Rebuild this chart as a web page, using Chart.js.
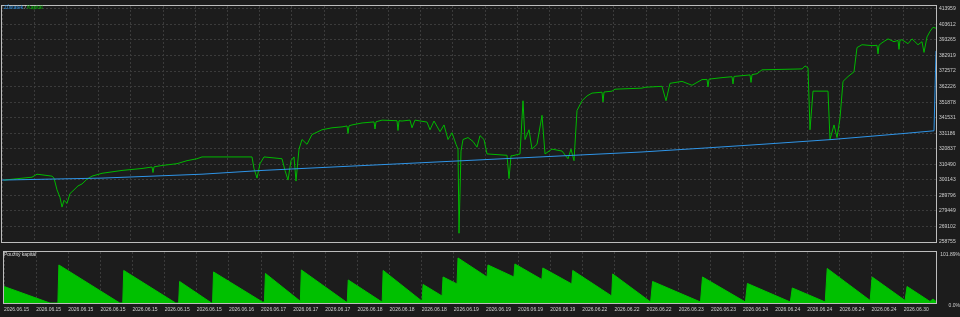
<!DOCTYPE html>
<html>
<head>
<meta charset="utf-8">
<script src="https://cdn.jsdelivr.net/npm/chart.js@4.4.1/dist/chart.umd.min.js"></script>
<style>
  body { margin: 0; background: #1c1c1c; width: 960px; height: 317px; overflow: hidden; position: relative; font-family: "Liberation Sans", Arial, sans-serif; }
  #top { position: absolute; left: 0; top: 0; }
  #bottom { position: absolute; left: 0; top: 247px; }
  .title { position: absolute; font-size: 5px; line-height: 6px; white-space: nowrap; }
</style>
</head>
<body>
<div id="top"><canvas id="mainChart" width="960" height="248"></canvas></div>
<div id="bottom"><canvas id="loadChart" width="960" height="70"></canvas></div>
<div class="title" style="left:4px;top:4px"><span style="color:#2f95e8">Zůstatek</span> <span style="color:#ddd">/</span> <span style="color:#00c000">Kapitál</span></div>
<div class="title" style="left:4px;top:251px;color:#ddd">Použitý kapitál</div>
<script>
// deal axis date labels (bottom)
const dateLabels = [
    "2026.06.15", "2026.06.15", "2026.06.15", "2026.06.15", "2026.06.15",
    "2026.06.15", "2026.06.15", "2026.06.16", "2026.06.17", "2026.06.17",
    "2026.06.17", "2026.06.18", "2026.06.18", "2026.06.18", "2026.06.19",
    "2026.06.19", "2026.06.19", "2026.06.19", "2026.06.22", "2026.06.22",
    "2026.06.22", "2026.06.23", "2026.06.23", "2026.06.24", "2026.06.24",
    "2026.06.24", "2026.06.24", "2026.06.24", "2026.06.30"
];

// right axis labels, upper panel
const valueTicks = [413959, 403612, 393265, 382919, 372572, 362226, 351878, 341531,
    331186, 320837, 310490, 300143, 289796, 279449, 269102, 258755];

// right axis labels, load panel
const loadTicks = [0, 101.89];
const loadTickLabels = ["0.0%", "101.89%"];

// balance (deal position -> value)
const balanceX = [0, 100, 200, 260, 300, 400, 480, 560, 640, 700, 760, 830, 900, 932, 934];
const balanceVal = [300000, 301300, 303900, 306400, 307700, 310900, 313500, 316100, 318700,
    321200, 323800, 327000, 330900, 332800, 386000];

// equity
const equityX = [2, 30, 35, 50, 52, 55, 58, 60, 62, 65,
    68, 72, 76, 80, 85, 90, 100, 120, 140, 150, 151, 152, 160,
    175, 185, 195, 200, 250, 252, 255, 258, 262, 280,
    283, 286, 289, 292, 294, 297, 300, 305, 310, 320,
    330, 340, 345, 346, 347, 350, 360, 370, 372, 373, 374, 380, 395, 396, 397, 400, 408, 410, 413,
    425, 428, 432, 438, 442, 446, 450, 454, 456, 457,
    459, 461, 466, 471, 475, 478, 482, 485, 500, 505, 507, 509, 510,
    518, 521, 523, 527, 530, 535, 540, 543, 550, 560,
    566, 569, 572, 575, 580, 585, 590, 600, 601, 602, 610, 613, 640,
    643, 660, 664, 668, 680, 690, 700, 705, 706, 707, 720, 730, 731, 732, 740, 748, 749, 750, 755,
    760, 800, 803, 806, 808, 811, 826, 828, 832, 835,
    838, 841, 846, 852, 855, 860, 870, 875, 876, 877, 880, 886, 892, 896, 897, 898,
    900, 906, 910, 916, 920, 922, 925, 928, 931, 934];
const equityVal = [300000, 301900, 303900, 302600, 301300, 293500, 288400, 282000, 286500, 284500,
    291000, 293500, 296100, 297400, 300600, 302600, 304500, 306400, 307700, 308700, 305000, 308800, 309700,
    310900, 312900, 314200, 315400, 315400, 307700, 301300, 310900, 315400, 314200,
    306400, 300000, 312900, 315400, 299300, 320600, 327000, 323800, 330300, 333500,
    334800, 335400, 336000, 331000, 336100, 336700, 338000, 338600, 338700, 334000, 338800, 339900, 339500, 333000, 339500, 339300, 339900, 334800, 339900,
    338600, 333500, 339300, 332200, 336700, 327000, 331500, 323800, 320600, 264600,
    319300, 327000, 328300, 325700, 321900, 329600, 327000, 317400, 316700, 316500, 301000, 316200, 316100,
    317400, 352800, 327000, 333500, 320600, 323800, 343100, 317400, 320600, 319300,
    314200, 320600, 312900, 346300, 352800, 356000, 357900, 358500, 352000, 358600, 359200, 360500, 361200,
    361800, 362400, 352800, 364400, 365700, 363100, 366900, 367000, 362000, 367200, 368200, 368800, 364000, 369000, 369500, 370000, 365000, 370200, 370800,
    373400, 374000, 376000, 374700, 333500, 359200, 359200, 327000, 336700, 328300,
    341200, 365700, 368900, 372100, 388200, 390100, 389500, 389700, 384000, 389800, 391400, 394000, 392100, 393000, 387000, 393200,
    393400, 390800, 394000, 390100, 392100, 385000, 395300, 399000, 401700, 401100];

// deposit load %
const loadX = [0, 46, 54, 55, 116, 119, 120, 172, 175, 176,
    208, 209, 210, 259, 261, 262, 296, 297, 298, 343,
    344, 345, 378, 379, 380, 418, 419, 420, 439, 440,
    454, 455, 484, 485, 511, 512, 539, 540, 569, 570,
    609, 610, 648, 650, 698, 700, 743, 745, 788, 790,
    823, 825, 868, 870, 903, 905, 928, 931, 934];
const loadPct = [33, 0, 0, 76, 0, 0, 65, 0, 0, 43,
    0, 0, 62, 2, 2, 59, 5, 5, 66, 2,
    2, 46, 3, 3, 65, 5, 5, 37, 14, 52,
    38, 90, 52, 76, 52, 78, 47, 70, 38, 65,
    14, 58, 2, 43, 2, 52, 2, 39, 2, 30,
    2, 69, 5, 52, 5, 33, 3, 8, 3];

const X_MAX = 934;
const TICK_STEP = 32.2;
const GRID = "#3b3b3b";
const TEXT = "#cfcfcf";

const toPoints = (xs, ys) => xs.map((x, i) => ({ x: x, y: ys[i] }));

// light frame round each plot area
const framePlugin = {
    id: "frame",
    afterDraw(chart) {
        const { ctx, chartArea: a } = chart;
        ctx.save();
        ctx.strokeStyle = "#bdbdbd";
        ctx.lineWidth = 1;
        ctx.strokeRect(a.left - 0.5, a.top - 0.5, a.right - a.left + 1, a.bottom - a.top + 1);
        ctx.restore();
    }
};

function xScale(showLabels) {
    return {
        type: "linear",
        min: 0,
        max: X_MAX,
        afterBuildTicks: (s) => { s.ticks = dateLabels.map((_, i) => ({ value: i * TICK_STEP })); },
        afterFit: (s) => { s.height = showLabels ? 14 : 0; },
        ticks: {
            display: showLabels,
            autoSkip: false,
            maxRotation: 0,
            align: "start",
            padding: 4,
            color: TEXT,
            font: { size: 5 },
            callback: (v, i) => dateLabels[i]
        },
        grid: { color: GRID, drawTicks: false },
        border: { display: false, dash: [2, 2] }
    };
}

new Chart(document.getElementById("mainChart"), {
    type: "line",
    data: {
        datasets: [
            {
                label: "Zůstatek",
                data: toPoints(balanceX, balanceVal),
                borderColor: "#2f95e8",
                borderWidth: 1,
                pointRadius: 0
            },
            {
                label: "Kapitál",
                data: toPoints(equityX, equityVal),
                borderColor: "#00b800",
                borderWidth: 1,
                pointRadius: 0
            }
        ]
    },
    options: {
        responsive: false,
        animation: false,
        layout: { padding: { left: 2, top: 2, bottom: 2, right: 0 } },
        plugins: { legend: { display: false }, tooltip: { enabled: false } },
        scales: {
            x: xScale(false),
            y: {
                position: "right",
                min: 258755,
                max: 415890,
                afterBuildTicks: (s) => { s.ticks = valueTicks.map(v => ({ value: v })); },
                afterFit: (s) => { s.width = 24; },
                ticks: { color: TEXT, font: { size: 5 }, padding: 3, callback: v => String(v) },
                grid: { color: GRID, drawTicks: false },
                border: { display: false, dash: [2, 2] }
            }
        }
    },
    plugins: [framePlugin]
});

new Chart(document.getElementById("loadChart"), {
    type: "line",
    data: {
        datasets: [
            {
                label: "Použitý kapitál",
                data: toPoints(loadX, loadPct),
                borderColor: "#00c000",
                backgroundColor: "#00c000",
                borderWidth: 1,
                pointRadius: 0,
                fill: "origin"
            }
        ]
    },
    options: {
        responsive: false,
        animation: false,
        layout: { padding: { left: 2, top: 2, bottom: 0, right: 0 } },
        plugins: { legend: { display: false }, tooltip: { enabled: false } },
        scales: {
            x: xScale(true),
            y: {
                position: "right",
                min: 0,
                max: 101.89,
                afterBuildTicks: (s) => { s.ticks = loadTicks.map(v => ({ value: v })); },
                afterFit: (s) => { s.width = 24; },
                ticks: {
                    color: TEXT, font: { size: 5 }, padding: 2, labelOffset: 3, crossAlign: "far",
                    callback: (v, i) => loadTickLabels[i]
                },
                grid: { display: false },
                border: { display: false }
            }
        }
    },
    plugins: [framePlugin]
});
</script>
</body>
</html>
